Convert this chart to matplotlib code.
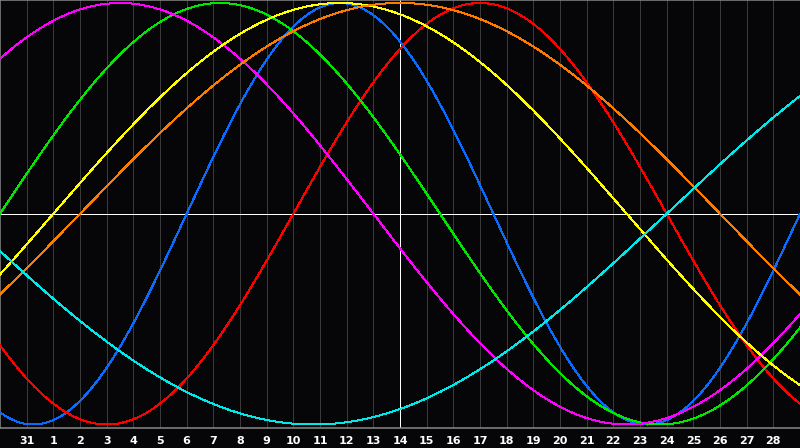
"""
Biorhythm chart: seven cycles around "today" (the 14th),
30 days shown, today in the middle.
"""
import numpy as np
import matplotlib
matplotlib.use("Agg")
import matplotlib.pyplot as plt

# Day labels under the grid lines (offset -14 .. +14 from today)
day_offsets = list(range(-14, 15))
day_labels = ["31", "1", "2", "3", "4", "5", "6", "7", "8", "9", "10",
              "11", "12", "13", "14", "15", "16", "17", "18", "19", "20",
              "21", "22", "23", "24", "25", "26", "27", "28"]

# Cycles: period in days, day (relative to today) where the curve crosses zero going up
cycle_names = ["physical", "emotional", "intellectual", "intuitive",
               "aesthetic", "awareness", "spiritual"]
cycle_periods = [23, 28, 33, 38, 43, 48, 53]
cycle_zero_up = [-8, -4, -15, -20, -13, -12, 10]
cycle_colors = ["#0a6cff", "#ff0000", "#00e800", "#ff00ff",
                "#ffff00", "#ff7a00", "#00e8e8"]

bg = "#060608"
grid_col = "#3a3a3a"
border_col = "#8a8a8a"

fig = plt.figure(figsize=(8, 4.48), dpi=100, facecolor=bg)
ax = fig.add_axes([0, 20.5 / 448, 1, 427.5 / 448])
ax.set_facecolor(bg)
ax.set_xlim(-15, 15)
ax.set_ylim(-214 / 211, 214 / 211)

px = 72 / 100  # one pixel in points

# vertical day grid
for d in day_offsets:
    if d == 0:
        continue
    ax.axvline(d, color=grid_col, lw=px, zorder=1, antialiased=False)

# today and zero line
ax.axvline(0, color="white", lw=px, zorder=2, antialiased=False)
ax.axhline(0, color="white", lw=px, zorder=2, antialiased=False)

t = np.linspace(-15, 15, 801)
for name, p, z, c in zip(cycle_names, cycle_periods, cycle_zero_up, cycle_colors):
    y = np.sin(2 * np.pi * (t - z) / p)
    ax.plot(t, y, color=c, lw=px, zorder=3, antialiased=False, label=name)

for s in ["left", "top", "bottom"]:
    ax.spines[s].set_color(border_col)
    ax.spines[s].set_linewidth(px * 1.5)
ax.spines["right"].set_visible(False)

ax.set_xticks(day_offsets)
ax.set_xticklabels(day_labels)
ax.tick_params(axis="x", length=0, pad=6, colors="white", labelsize=8)
for lbl in ax.get_xticklabels():
    lbl.set_fontweight("bold")
ax.set_yticks([])

fig.savefig("out.png", dpi=100, facecolor=bg)
